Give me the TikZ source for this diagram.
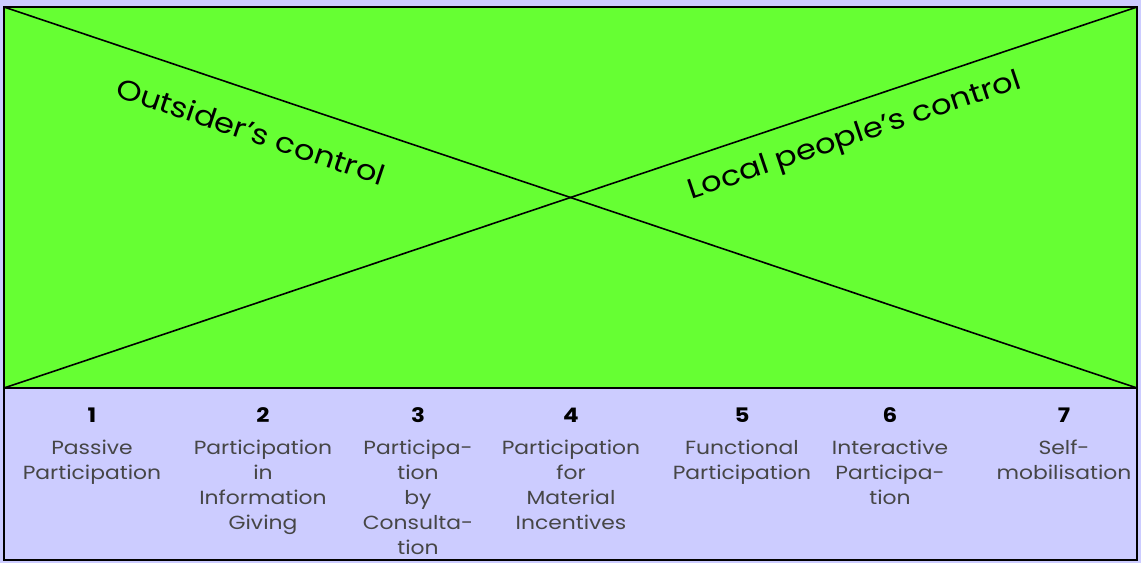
\documentclass[tikz,border=0pt]{standalone}
\usepackage{fontspec}
\setmainfont[FakeStretch=1.15]{Poppins}
\definecolor{fieldgreen}{RGB}{102,255,51}
\definecolor{scalelilac}{RGB}{204,204,255}
\definecolor{labelgrey}{RGB}{70,70,70}

\begin{document}
\begin{tikzpicture}[x=1pt,y=1pt,yscale=-1,
  rung/.style={align=center,font=\fontsize{19}{25}\selectfont,text=labelgrey,anchor=north,inner sep=0pt},
  rungnum/.style={font=\fontsize{20}{20}\selectfont\bfseries,inner sep=0pt},
  control/.style={font=\fontsize{28}{30}\selectfont,inner sep=0pt}]
%set diagram size to the reference
\fill [scalelilac] (0,0) rectangle (1141,563);
\useasboundingbox (0,0) rectangle (1141,563);

% Corners
\coordinate (tl) at (4,7);
\coordinate (tr) at (1137,7);
\coordinate (bl) at (4,388);
\coordinate (br) at (1137,388);
\coordinate (foot) at (1137,560);

%Green field
\draw [fill=fieldgreen, line width=1.8] (tl) rectangle (br);
%Scale box
\draw [line width=1.8] (bl) rectangle (foot);
%Diagonals
\draw [line width=1.6] (tl) -- (br);
\draw [line width=1.6] (bl) -- (tr);

% Text Node
\node [control, rotate=-18.55] (outsider) at (251,131) {Outsider's control};
% Text Node
\node [control, rotate=18.55] (local) at (855,137) {Local people's control};

% Numbers
\node [rungnum] (n1) at (92,415) {1};
\node [rungnum] (n2) at (263,415) {2};
\node [rungnum] (n3) at (418,415) {3};
\node [rungnum] (n4) at (571,415) {4};
\node [rungnum] (n5) at (742,415) {5};
\node [rungnum] (n6) at (890,415) {6};
\node [rungnum] (n7) at (1064,415) {7};

% Rung labels
\node [rung] (r1) at (92,440) {Passive\\Participation};
\node [rung] (r2) at (263,440) {Participation\\in\\Information\\Giving};
\node [rung] (r3) at (418,440) {Participa-\\tion\\by\\Consulta-\\tion};
\node [rung] (r4) at (571,440) {Participation\\for\\Material\\Incentives};
\node [rung] (r5) at (742,440) {Functional\\Participation};
\node [rung] (r6) at (890,440) {Interactive\\Participa-\\tion};
\node [rung] (r7) at (1064,440) {Self-\\mobilisation};

\end{tikzpicture}
\end{document}
